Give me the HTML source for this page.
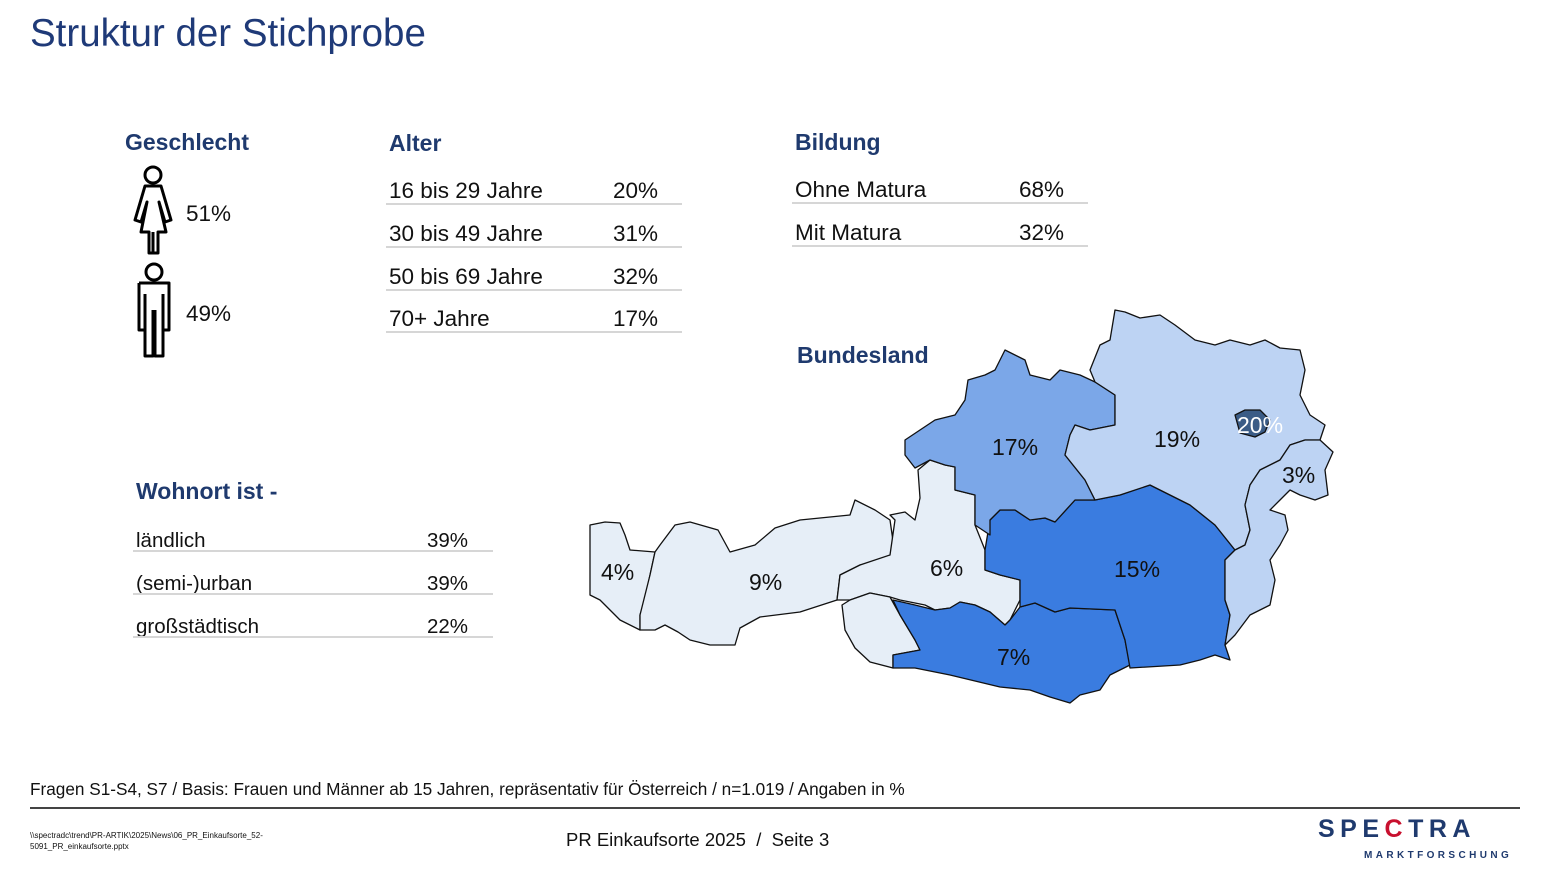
<!DOCTYPE html>
<html><head><meta charset="utf-8"><style>
body{margin:0;width:1547px;height:870px;background:#fff;font-family:"Liberation Sans",sans-serif;position:relative;overflow:hidden;color:#111}
.a{position:absolute;white-space:nowrap}
.t{left:30px;top:12px;font-size:38.5px;color:#1f3a78}
.h{font-weight:bold;font-size:23px;color:#1f3a6e}
.r{font-size:22.5px}
.w{font-size:20.5px}
.ln{position:absolute;height:2px;background:#d6d6d6}
</style></head><body>
<div class="a t">Struktur der Stichprobe</div>
<div class="a h" style="left:125px;top:129px">Geschlecht</div>
<div class="a h" style="left:389px;top:130px">Alter</div>
<div class="a h" style="left:795px;top:129px">Bildung</div>
<div class="a h" style="left:797px;top:342px">Bundesland</div>
<div class="a h" style="left:136px;top:478px">Wohnort ist -</div>

<svg class="a" style="left:125px;top:160px" width="60" height="200" fill="none" stroke="#000" stroke-width="3" stroke-linejoin="round">
<circle cx="28" cy="15" r="8"/>
<path d="M20 26 H36 L46 60 L40 62 L34 42 L41 72 H33 V93 H24 V72 L16 72 L22 42 L16 62 L10 60 Z M28 72 V93"/>
<circle cx="29" cy="112" r="8"/>
<path d="M14 123 H44 V170 H38 V134 M14 123 V170 H20 V134 M20 150 V196 H28 V150 M30 150 V196 H38 V150"/>
</svg>
<div class="a r" style="left:186px;top:201px">51%</div>
<div class="a r" style="left:186px;top:301px">49%</div>

<div class="a r" style="left:389px;top:178px">16 bis 29 Jahre</div><div class="a r" style="left:613px;top:178px">20%</div>
<div class="ln" style="left:386px;top:203px;width:296px"></div>
<div class="a r" style="left:389px;top:221px">30 bis 49 Jahre</div><div class="a r" style="left:613px;top:221px">31%</div>
<div class="ln" style="left:386px;top:246px;width:296px"></div>
<div class="a r" style="left:389px;top:264px">50 bis 69 Jahre</div><div class="a r" style="left:613px;top:264px">32%</div>
<div class="ln" style="left:386px;top:289px;width:296px"></div>
<div class="a r" style="left:389px;top:306px">70+ Jahre</div><div class="a r" style="left:613px;top:306px">17%</div>
<div class="ln" style="left:386px;top:331px;width:296px"></div>

<div class="a r" style="left:795px;top:177px">Ohne Matura</div><div class="a r" style="left:1019px;top:177px">68%</div>
<div class="ln" style="left:792px;top:202px;width:296px"></div>
<div class="a r" style="left:795px;top:220px">Mit Matura</div><div class="a r" style="left:1019px;top:220px">32%</div>
<div class="ln" style="left:792px;top:245px;width:296px"></div>

<div class="a w" style="left:136px;top:529px">ländlich</div><div class="a w" style="left:427px;top:529px">39%</div>
<div class="ln" style="left:133px;top:550px;width:360px"></div>
<div class="a w" style="left:136px;top:572px">(semi-)urban</div><div class="a w" style="left:427px;top:572px">39%</div>
<div class="ln" style="left:133px;top:593px;width:360px"></div>
<div class="a w" style="left:136px;top:615px">großstädtisch</div><div class="a w" style="left:427px;top:615px">22%</div>
<div class="ln" style="left:133px;top:636px;width:360px"></div>

<svg class="a" style="left:0;top:0" width="1547" height="870" stroke="#111" stroke-width="1.3" stroke-linejoin="round">
<polygon fill="#e6eef7" points="590,525 605,522 620,523 625,535 630,550 655,552 650,575 645,600 640,615 640,630 620,620 600,600 590,595 590,545"/>
<polygon fill="#e6eef7" points="655,552 660,545 675,525 690,522 718,530 730,552 755,545 775,528 800,520 850,515 855,500 875,510 890,520 895,555 885,560 860,565 840,575 837,600 800,612 760,617 740,628 735,645 710,645 690,640 678,632 665,625 655,630 640,630 640,615 650,575"/>
<polygon fill="#e6eef7" points="837,600 840,575 860,565 890,555 895,520 890,515 905,512 915,520 920,498 918,470 930,460 945,465 955,467 955,490 975,495 975,525 985,550 985,570 1000,575 1020,580 1020,600 1010,620 1005,625 990,612 975,605 960,602 950,608 935,610 925,605 900,600 890,597 870,593 850,600"/>
<polygon fill="#e6eef7" points="850,600 870,593 890,597 900,615 915,640 920,650 893,655 893,668 870,662 855,648 845,630 842,605"/>
<polygon fill="#3a7ce0" points="893,600 915,605 935,610 950,608 960,602 975,605 990,612 1005,625 1010,620 1020,607 1035,603 1055,612 1070,608 1115,610 1125,640 1130,665 1110,675 1100,690 1080,695 1070,703 1050,697 1030,690 1000,687 950,675 915,668 893,668 893,655 920,650 915,640 900,615"/>
<polygon fill="#3a7ce0" points="985,550 990,520 1000,510 1015,510 1030,520 1045,518 1055,522 1075,500 1095,500 1120,495 1150,485 1170,495 1190,505 1215,525 1235,550 1225,560 1225,600 1230,615 1225,645 1230,660 1215,655 1200,660 1180,665 1130,668 1125,640 1115,610 1070,608 1055,612 1035,603 1020,607 1020,580 1000,575 985,570"/>
<polygon fill="#7ba7e8" points="905,440 920,430 935,420 955,415 965,400 968,380 985,375 995,370 1005,350 1025,360 1030,375 1050,380 1060,370 1080,375 1095,382 1115,395 1115,425 1090,430 1075,425 1070,435 1065,455 1085,480 1095,500 1075,500 1055,522 1045,518 1030,520 1015,510 1000,510 990,520 990,535 975,525 975,495 955,490 955,467 945,465 930,460 915,468 905,455"/>
<polygon fill="#bdd3f3" points="1095,382 1090,370 1100,345 1110,340 1115,310 1125,312 1140,318 1160,315 1175,325 1195,340 1215,345 1230,340 1250,345 1265,340 1280,348 1300,350 1305,370 1300,395 1310,415 1325,425 1320,440 1305,440 1290,445 1280,460 1260,470 1250,485 1245,505 1250,530 1245,545 1235,550 1215,525 1190,505 1170,495 1150,485 1120,495 1095,500 1085,480 1065,455 1070,435 1075,425 1090,430 1115,425 1115,395"/>
<polygon fill="#bdd3f3" points="1245,545 1250,530 1245,505 1250,485 1260,470 1280,460 1290,445 1305,440 1320,440 1333,452 1325,470 1328,495 1315,500 1300,495 1290,490 1280,500 1270,510 1285,515 1288,530 1280,545 1270,560 1275,580 1270,605 1250,615 1235,635 1225,645 1230,615 1225,600 1225,560 1235,550"/>
<polygon fill="#3b5c86" points="1235,415 1245,410 1260,410 1270,420 1265,432 1255,437 1240,433"/>
<g stroke="none" font-size="23" fill="#111">
<text x="601" y="580">4%</text><text x="749" y="590">9%</text><text x="930" y="576">6%</text>
<text x="997" y="665">7%</text><text x="1114" y="577">15%</text><text x="992" y="455">17%</text>
<text x="1154" y="447">19%</text><text x="1282" y="483">3%</text><text x="1237" y="433" fill="#fff">20%</text>
</g>
</svg>

<div class="a" style="left:30px;top:779px;font-size:17.2px">Fragen S1-S4, S7 / Basis: Frauen und Männer ab 15 Jahren, repräsentativ für Österreich / n=1.019 / Angaben in %</div>
<div class="a" style="left:30px;top:807px;width:1490px;height:2px;background:#444"></div>
<div class="a" style="left:30px;top:830px;font-size:8px;line-height:11px">\\spectradc\trend\PR-ARTIK\2025\News\06_PR_Einkaufsorte_52-<br>5091_PR_einkaufsorte.pptx</div>
<div class="a" style="left:566px;top:829px;font-size:18.5px">PR Einkaufsorte 2025 &nbsp;/ &nbsp;Seite 3</div>
<div class="a" style="left:1318px;top:815px;font-size:25px;font-weight:bold;color:#1f3a6e;letter-spacing:5.5px">SPE<span style="color:#c8102e">C</span>TRA</div>
<div class="a" style="left:1364px;top:850px;font-size:10px;font-weight:bold;color:#1f3a6e;letter-spacing:3.4px">MARKTFORSCHUNG</div>
</body></html>
